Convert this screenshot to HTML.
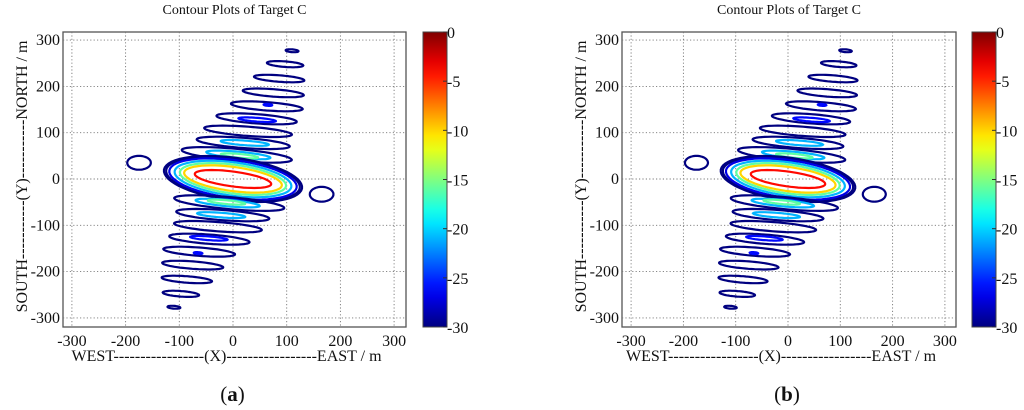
<!DOCTYPE html>
<html><head><meta charset="utf-8">
<style>
html,body{margin:0;padding:0;background:#fff;}
svg{display:block;font-family:"Liberation Serif",serif;}
</style></head>
<body>
<svg id="fig" width="1024" height="410" viewBox="0 0 1024 410"></svg>
<script>
// Contour ellipses (units in metres): centre, half-axes, rotation (deg), dB level
const lobeCx  = [110, 97, 86, 75, 63, 65, 44, 45, 28, 19, 22, 7, 10, 12,   0,   0,   0,   0,   0,   0,   0,  -7, -10, -12, -19, -22, -28, -44, -45, -63, -65, -75, -86, -97, -110, -175, 165];
const lobeCy  = [277,248,217,186,157,160,130,128,103, 78, 78, 52, 52, 50,   0,   0,   0,   0,   0,   0,   0, -52, -52, -50, -78, -78,-103,-130,-128,-157,-160,-186,-217,-248,-277,  35, -33];
const lobeRx  = [ 12, 34, 47, 57, 67,  8, 75, 35, 82, 87, 45,103, 60, 35, 130, 126, 120, 110, 100,  92,  72, 103,  60,  35,  87,  45,  82,  75,  35,  67,   8,  57,  47,  34,  12,  22,  22];
const lobeRy  = [  3,  6,  7,  8,  9,  2, 10,  4, 10, 11,  5, 13,  7,  4,  46,  44,  41,  36,  31,  26,  16,  13,   7,   4,  11,   5,  10,  10,   4,   9,   2,   8,   7,   6,   3,  15,  16];
const lobeRot = [ -5, -5, -5, -5, -5, -5, -5, -5, -5, -5, -5, -6, -6, -6,  -9,  -9,  -9,  -9,  -9,  -9,  -9,  -6,  -6,  -6,  -5,  -5,  -5,  -5,  -5,  -5,  -5,  -5,  -5,  -5,  -5,   0,   0];
const lobeLvl = [-30,-30,-30,-30,-30,-26,-30,-26,-30,-30,-21,-30,-21,-16, -30, -30, -27, -21, -16, -10,  -4, -30, -21, -16, -30, -21, -30, -30, -26, -30, -26, -30, -30, -30, -30, -30, -30];
const axisTicks = [-300,-200,-100,0,100,200,300];
const cbarTicks = [0,-5,-10,-15,-20,-25,-30];

function jet(v){ // v in [0,1]
  const r=Math.min(Math.max(Math.min(4*v-1.5,-4*v+4.5),0),1);
  const g=Math.min(Math.max(Math.min(4*v-0.5,-4*v+3.5),0),1);
  const b=Math.min(Math.max(Math.min(4*v+0.5,-4*v+2.5),0),1);
  return `rgb(${Math.round(r*255)},${Math.round(g*255)},${Math.round(b*255)})`;
}
const NS="http://www.w3.org/2000/svg";
const svg=document.getElementById('fig');
function el(tag,attrs,parent){const e=document.createElementNS(NS,tag);for(const k in attrs)e.setAttribute(k,attrs[k]);(parent||svg).appendChild(e);return e;}

const defs=el('defs',{});
const grad=el('linearGradient',{id:'jetg',x1:0,y1:1,x2:0,y2:0},defs);
for(let i=0;i<=20;i++){el('stop',{offset:(i/20),'stop-color':jet(i/20)},grad);}

function panel(p,label){
  const g=el('g',{});
  
  
  const xs=v=>p.x0+v*p.sx, ys=v=>p.y0-v*p.sy;
  const box=el('rect',{x:p.L,y:p.T,width:p.R-p.L,height:p.B-p.T,fill:'#fff',stroke:'#555','stroke-width':1.3},g);
  
  
  axisTicks.forEach(t=>{
    const gx=el('line',{x1:xs(t),x2:xs(t),y1:p.T,y2:p.B,stroke:'#777','stroke-width':0.9,'stroke-dasharray':'1.2,2.2'},g);
    
    
    const gy=el('line',{x1:p.L,x2:p.R,y1:ys(t),y2:ys(t),stroke:'#777','stroke-width':0.9,'stroke-dasharray':'1.2,2.2'},g);
    
    
    const tx=el('text',{x:xs(t),y:346,'font-size':16,'text-anchor':'middle',fill:'#111'},g);
    tx.textContent=t;
    
    
    const ty=el('text',{x:p.L-3,y:ys(t)+5,'font-size':16,'text-anchor':'end',fill:'#111'},g);
    ty.textContent=t;
    
    
  });
  for(let i=0;i<lobeCx.length;i++){
    const a=lobeRot[i]*Math.PI/180;let d='';
    for(let k=0;k<=60;k++){
      const t=k/60*2*Math.PI;
      const ux=lobeRx[i]*Math.cos(t), uy=lobeRy[i]*Math.sin(t);
      const X=lobeCx[i]+ux*Math.cos(a)-uy*Math.sin(a);
      const Y=lobeCy[i]+ux*Math.sin(a)+uy*Math.cos(a);
      d+=(k?'L':'M')+xs(X).toFixed(1)+','+ys(Y).toFixed(1);
    }
    const c=el('path',{d:d+'Z',fill:'none',stroke:jet((lobeLvl[i]+30)/30),'stroke-width':2.2},g);
    
    
  }
  const ti=el('text',{x:(p.L+p.R)/2,y:14,'font-size':14,'text-anchor':'middle',fill:'#111'},g);
  ti.textContent='Contour Plots of Target C';
  
  
  const xt=el('text',{x:(p.L+p.R)/2-8,y:361,'font-size':16,'text-anchor':'middle',fill:'#111'},g);
  xt.textContent='WEST-----------------(X)-----------------EAST / m';
  
  
  const yt=el('text',{x:0,y:0,'font-size':16,'text-anchor':'middle',fill:'#111',transform:`translate(${p.L-36},${(p.T+p.B)/2-3}) rotate(-90)`},g);
  yt.textContent='SOUTH-----------(Y)-----------NORTH / m';
  
  
  const cb=el('rect',{x:p.cbL,y:p.T,width:24,height:p.B-p.T,fill:'url(#jetg)',stroke:'#444','stroke-width':1},g);
  
  
  cbarTicks.forEach(v=>{
    const y=p.T+(-v/30)*(p.B-p.T);
    el('line',{x1:p.cbL+20,x2:p.cbL+24,y1:y,y2:y,stroke:'#333','stroke-width':1},g);
    const tl=el('text',{x:p.cbL+24,y:y+6,'font-size':16,fill:'#111'},g);
    tl.textContent=v;
    
    
  });
  const pl=el('text',{x:(p.L+p.R)/2-2,y:401,'font-size':21,'text-anchor':'middle',fill:'#111'},g);
  pl.innerHTML='(<tspan font-weight="bold">'+label+'</tspan>)';
  
  
}
panel({L:63,R:406,T:32,B:327,x0:233,sx:0.537,y0:179,sy:0.463,cbL:423},'a');
panel({L:622,R:956,T:32,B:327,x0:788,sx:0.523,y0:179,sy:0.463,cbL:972},'b');
</script>
</body></html>
